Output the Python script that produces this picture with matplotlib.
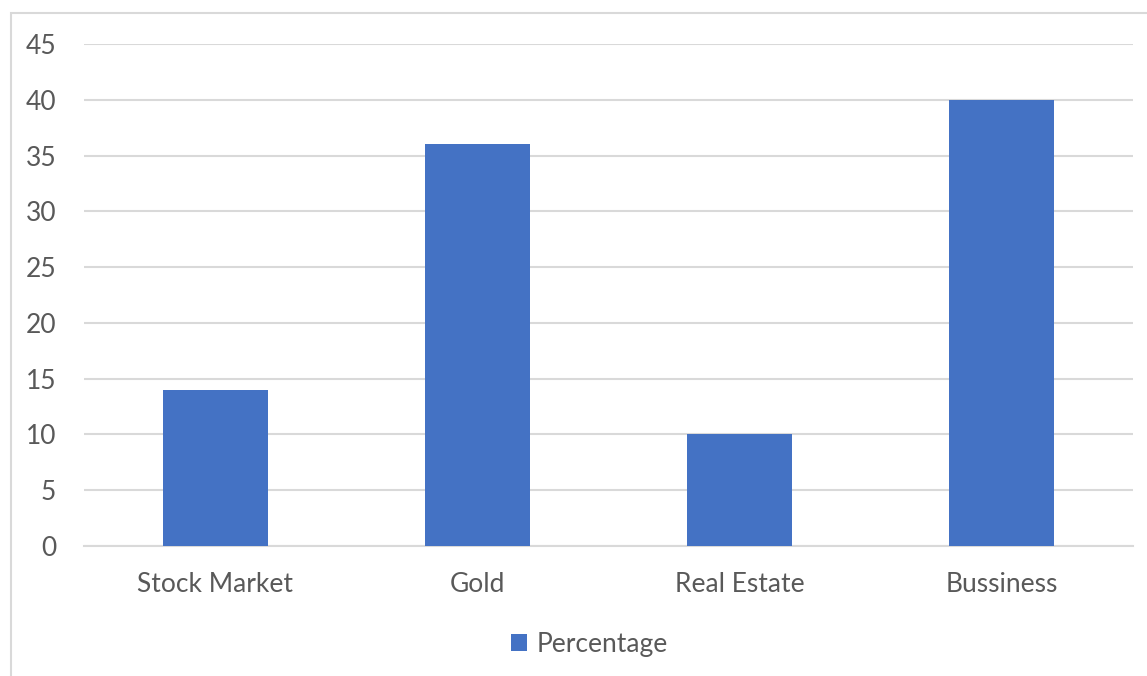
import matplotlib.pyplot as plt
from matplotlib.patches import Rectangle

# investment share by category
categories = ["Stock Market", "Gold", "Real Estate", "Bussiness"]
percentage = [14, 36, 10, 40]
y_ticks = [0, 5, 10, 15, 20, 25, 30, 35, 40, 45]

bar_color = "#4472C4"
grid_color = "#D9D9D9"
text_color = "#595959"

plt.rcParams["font.family"] = ["Lato", "DejaVu Sans"]

fig = plt.figure(figsize=(11.47, 6.76), dpi=100)
ax = fig.add_axes([0.0732, 0.1923, 0.9146, 0.7426])

x = range(len(categories))
ax.bar(x, percentage, width=0.4, color=bar_color, label="Percentage", zorder=3)

ax.set_xlim(-0.5, len(categories) - 0.5)
ax.set_ylim(0, 45)
ax.set_yticks(y_ticks)
ax.set_xticks(list(x))
ax.set_xticklabels(categories)

ax.grid(axis="y", color=grid_color, linewidth=1.5, zorder=0)
for side in ["top", "right", "left"]:
    ax.spines[side].set_visible(False)
ax.spines["bottom"].set_color(grid_color)
ax.spines["bottom"].set_linewidth(1.5)
ax.tick_params(axis="both", length=0, labelsize=19, colors=text_color)
ax.tick_params(axis="x", pad=19)
ax.tick_params(axis="y", pad=20)

leg = fig.legend(loc="center", bbox_to_anchor=(0.514, 0.047), frameon=False,
                 fontsize=19, handlelength=0.6, handleheight=0.6, handletextpad=0.35)
for t in leg.get_texts():
    t.set_color(text_color)

# chart border, runs off the right and bottom edges
fig.patches.append(Rectangle((10.5 / 1147, -0.05), 1.1, 0.05 + (1 - 13 / 676),
                             transform=fig.transFigure, fill=False,
                             edgecolor=grid_color, linewidth=1.5))

fig.savefig("out.png", dpi=100)
